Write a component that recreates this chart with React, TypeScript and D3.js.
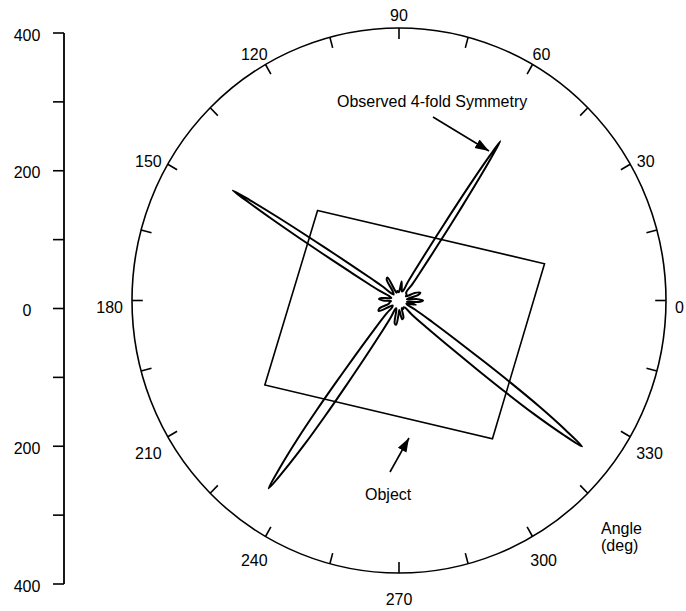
import React, { useEffect, useRef } from "react";
import * as d3 from "d3";

// polar axis
const angleTicks = [0, 15, 30, 45, 60, 75, 90, 105, 120, 135, 150, 165, 180, 195, 210, 225, 240, 255, 270, 285, 300, 315, 330, 345];
const angleLabels = [0, 30, 60, 90, 120, 150, 180, 210, 240, 270, 300, 330];

// measured response (deg, radius units)
const curveAngle = [
  -8, -4, 0, 4, 8, 12, 16, 20, 25, 30, 36,
  48, 50, 52, 54, 55, 55.6, 56.1, 56.6, 57, 57.4, 57.9, 58.4, 59, 60, 62, 64, 66,
  72, 78, 82, 86, 92, 100, 108, 113, 117, 121, 125, 132,
  138, 140, 142, 144, 145, 145.6, 146.1, 146.6, 147, 147.4, 147.9, 148.4, 149, 150, 152, 154, 156,
  162, 168, 172, 176, 180, 184, 190, 197, 202, 207, 212, 217,
  223.7, 225.7, 229, 230.8, 231.85, 232.55, 233.2, 234, 234.7, 235.4, 236.2, 236.85, 237.55, 238.6, 240.4, 243.7, 245.7,
  250, 255, 259, 263, 267, 272, 276, 280, 285, 290, 296, 304,
  311, 313, 316.3, 318.1, 319.15, 319.85, 320.5, 321.3, 322, 322.7, 323.5, 324.15, 324.85, 325.9, 327.7, 331, 333,
  338, 342, 346, 350,
];
const curveRadius = [
  12, 30, 36, 28, 12, 14, 30, 34, 26, 12, 14,
  16, 30, 47, 84, 126, 167, 209, 251, 279, 251, 209, 167, 126, 84, 47, 30, 16,
  14, 20, 28, 16, 12, 14, 12, 18, 38, 36, 16, 12,
  16, 32, 50, 89, 134, 178, 223, 267, 297, 267, 223, 178, 134, 89, 50, 32, 16,
  12, 16, 26, 30, 24, 12, 14, 16, 32, 34, 18, 12,
  14, 27, 57, 101, 152, 203, 253, 304, 338, 304, 253, 203, 152, 101, 57, 27, 14,
  12, 16, 34, 36, 24, 14, 20, 28, 26, 12, 14, 12,
  14, 28, 59, 104, 157, 209, 261, 313, 348, 313, 261, 209, 157, 104, 59, 28, 14,
  12, 16, 26, 16,
];

// object outline (radius units, x right / y up)
const objectX = [-122, 218, 140, -201];
const objectY = [132, 54, -203, -124];

// left scale
const leftTicks = [-400, -300, -200, -100, 0, 100, 200, 300, 400];
const leftLabels = [-400, -200, 0, 200, 400];

const W = 686;
const H = 611;
const cx = 399;
const cy = 300.5;
const R = 272.5;
const SX = 267 / 272.5;
const FONT = "'Liberation Sans', Arial, Helvetica, sans-serif";

const rad = (a: number) => (a * Math.PI) / 180;

export default function App() {
  const svgRef = useRef<SVGSVGElement>(null);

  useEffect(() => {
    const svg = d3.select(svgRef.current);
    svg.selectAll("*").remove();

    svg
      .append("defs")
      .append("marker")
      .attr("id", "head")
      .attr("viewBox", "0 0 10 10")
      .attr("refX", 10)
      .attr("refY", 5)
      .attr("markerWidth", 14)
      .attr("markerHeight", 14)
      .attr("markerUnits", "userSpaceOnUse")
      .attr("orient", "auto")
      .append("path")
      .attr("d", "M0,1.5 L10,5 L0,8.5 Z")
      .attr("fill", "#000");

    const r = d3.scaleLinear().domain([0, 400]).range([0, R]);

    // plot area (scan is slightly squeezed horizontally)
    const g = svg
      .append("g")
      .attr("transform", `translate(${cx},${cy}) scale(${SX},1)`);

    g.append("circle")
      .attr("r", R)
      .attr("fill", "none")
      .attr("stroke", "#000")
      .attr("stroke-width", 1.6)
      .attr("vector-effect", "non-scaling-stroke");

    g.selectAll(".tick")
      .data(angleTicks)
      .join("line")
      .attr("x1", (d) => Math.cos(rad(d)) * R)
      .attr("y1", (d) => -Math.sin(rad(d)) * R)
      .attr("x2", (d) => Math.cos(rad(d)) * (R - 11))
      .attr("y2", (d) => -Math.sin(rad(d)) * (R - 11))
      .attr("stroke", "#000")
      .attr("stroke-width", 1.6)
      .attr("vector-effect", "non-scaling-stroke");

    // object
    const objPts = objectX.map((x, i) => [r(x), -r(objectY[i])] as [number, number]);
    g.append("path")
      .attr("d", d3.line().curve(d3.curveLinearClosed)(objPts))
      .attr("fill", "none")
      .attr("stroke", "#000")
      .attr("stroke-width", 1.6)
      .attr("vector-effect", "non-scaling-stroke");

    // response curve
    const pts = curveAngle.map((a, i) => [a, curveRadius[i]]);
    const radial = d3
      .lineRadial<number[]>()
      .angle((d) => rad(90 - d[0]))
      .radius((d) => r(d[1]))
      .curve(d3.curveCatmullRomClosed.alpha(0.5));
    g.append("path")
      .attr("d", radial(pts))
      .attr("fill", "none")
      .attr("stroke", "#000")
      .attr("stroke-width", 2)
      .attr("stroke-linejoin", "round")
      .attr("vector-effect", "non-scaling-stroke");

    // angle labels, placed by their near edge
    svg
      .selectAll(".alabel")
      .data(angleLabels)
      .join("text")
      .attr("x", (d) => {
        const c = Math.cos(rad(d));
        const w = String(d).length * 8.9;
        return cx + c * 276 + (c * w) / 2;
      })
      .attr("y", (d) => {
        const s = Math.sin(rad(d));
        return 307.5 - s * 286 - s * 6;
      })
      .attr("text-anchor", "middle")
      .attr("dominant-baseline", "central")
      .style("font-family", FONT)
      .style("font-size", "16px")
      .text((d) => d);

    // annotations
    const txt = (x: number, y: number, s: string) =>
      svg
        .append("text")
        .attr("x", x)
        .attr("y", y)
        .style("font-family", FONT)
        .style("font-size", "16px")
        .text(s);

    txt(337, 107, "Observed 4-fold Symmetry");
    svg
      .append("line")
      .attr("x1", 433)
      .attr("y1", 117)
      .attr("x2", 489)
      .attr("y2", 151)
      .attr("stroke", "#000")
      .attr("stroke-width", 1.6)
      .attr("marker-end", "url(#head)");

    txt(365, 500, "Object");
    svg
      .append("line")
      .attr("x1", 390)
      .attr("y1", 472)
      .attr("x2", 409)
      .attr("y2", 438)
      .attr("stroke", "#000")
      .attr("stroke-width", 1.6)
      .attr("marker-end", "url(#head)");

    txt(601, 534, "Angle");
    txt(601, 551, "(deg)");

    // left scale
    const y = d3.scaleLinear().domain([-400, 400]).range([584, 33]);
    const left = svg.append("g");
    left
      .append("line")
      .attr("x1", 64)
      .attr("x2", 64)
      .attr("y1", y(-400))
      .attr("y2", y(400))
      .attr("stroke", "#000")
      .attr("stroke-width", 1.8);
    left
      .selectAll(".lt")
      .data(leftTicks)
      .join("line")
      .attr("x1", 53)
      .attr("x2", 64)
      .attr("y1", (d) => y(d))
      .attr("y2", (d) => y(d))
      .attr("stroke", "#000")
      .attr("stroke-width", 1.6);
    left
      .selectAll(".ll")
      .data(leftLabels)
      .join("text")
      .attr("x", 27)
      .attr("y", (d) => y(d) + 2)
      .attr("text-anchor", "middle")
      .attr("dominant-baseline", "central")
      .style("font-family", FONT)
      .style("font-size", "16px")
      .text((d) => Math.abs(d));
  }, []);

  return (
    <svg
      ref={svgRef}
      width={W}
      height={H}
      style={{ position: "absolute", left: 0, top: 0, background: "#fff" }}
    />
  );
}
